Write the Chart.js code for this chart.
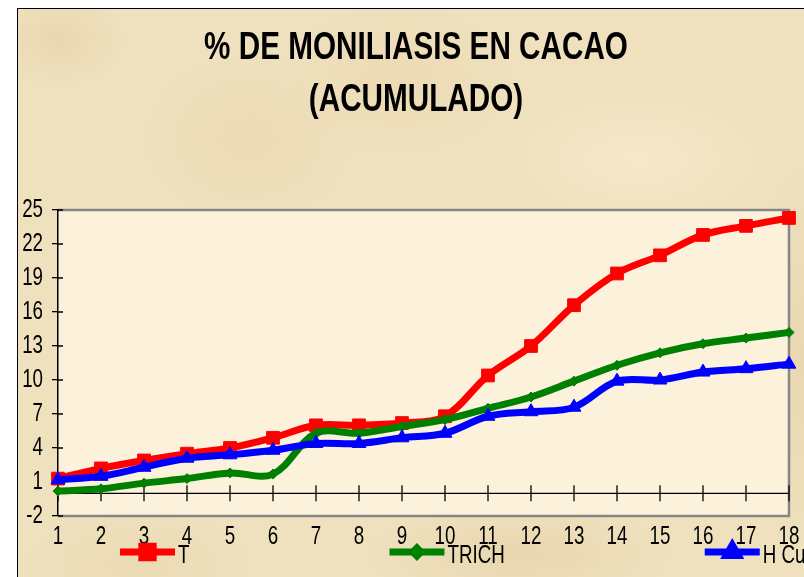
<!DOCTYPE html>
<html>
<head>
<meta charset="utf-8">
<title>% DE MONILIASIS EN CACAO</title>
<script src="https://cdn.jsdelivr.net/npm/chart.js@4.4.1/dist/chart.umd.min.js"></script>
<style>
    html, body {
        margin: 0;
        padding: 0;
        width: 804px;
        height: 577px;
        overflow: hidden;
        background: #ffffff;
    }

    /* parchment style frame of the chart object */
    #frame {
        position: absolute;
        left: 17px;
        top: 8px;
        width: 860px;
        height: 600px;
        border-left: 1.5px solid #000;
        border-top: 1.5px solid #000;
        background:
            radial-gradient(ellipse 70px 50px at 40px 30px, rgba(222, 196, 150, 0.35), transparent),
            radial-gradient(ellipse 120px 80px at 380px 70px, rgba(230, 206, 160, 0.35), transparent),
            radial-gradient(ellipse 140px 70px at 620px 150px, rgba(250, 238, 210, 0.6), transparent),
            radial-gradient(ellipse 110px 90px at 230px 130px, rgba(226, 202, 158, 0.30), transparent),
            radial-gradient(ellipse 160px 50px at 500px 545px, rgba(222, 198, 152, 0.40), transparent),
            radial-gradient(ellipse 120px 60px at 120px 555px, rgba(228, 206, 162, 0.35), transparent),
            radial-gradient(ellipse 70px 200px at 790px 350px, rgba(224, 200, 154, 0.40), transparent),
            #efe1be;
    }

    #chart {
        position: absolute;
        left: 17px;
        top: 8px;
    }
</style>
</head>
<body>
<div id="frame"></div>
<canvas id="chart" width="840" height="569"></canvas>

<script>
// x categories (sampling number)
const days = ['1', '2', '3', '4', '5', '6', '7', '8', '9', '10', '11', '12', '13', '14', '15', '16', '17', '18'];

// accumulated moniliasis (%) per treatment
const seriesT = [1.3, 2.2, 2.9, 3.5, 4.0, 4.9, 6.0, 6.0, 6.2, 6.8, 10.4, 13.0, 16.6, 19.4, 21.0, 22.8, 23.6, 24.3];
const seriesTrich = [0.2, 0.4, 0.9, 1.3, 1.8, 1.7, 5.3, 5.3, 5.9, 6.5, 7.5, 8.5, 9.9, 11.3, 12.4, 13.2, 13.7, 14.2];
const seriesHCu = [1.2, 1.5, 2.3, 3.1, 3.4, 3.8, 4.4, 4.4, 4.9, 5.3, 6.8, 7.2, 7.6, 9.9, 10.0, 10.7, 11.0, 11.4];

// y axis range
const yMin = -2;
const yMax = 25;
const yStep = 3;

const FONT = '"Liberation Sans", Arial, sans-serif';
// the original uses a narrow face, so text gets squeezed sideways
const TEXT_SQUEEZE = 0.75;

const COLORS = {
    red: '#ff0000',
    green: '#008000',
    blue: '#0000ff',
};

const canvas = document.getElementById('chart');
const c2d = canvas.getContext('2d');

// squeeze every text drawn on this canvas around its anchor point
const origFillText = c2d.fillText.bind(c2d);
const origMeasureText = c2d.measureText.bind(c2d);
c2d.fillText = function (text, x, y, maxWidth) {
    this.save();
    this.translate(x, y);
    this.scale(TEXT_SQUEEZE, 1);
    if (maxWidth !== undefined) {
        origFillText(text, 0, 0, maxWidth / TEXT_SQUEEZE);
    } else {
        origFillText(text, 0, 0);
    }
    this.restore();
};
c2d.measureText = function (text) {
    const m = origMeasureText(text);
    return {
        width: m.width * TEXT_SQUEEZE,
        actualBoundingBoxAscent: m.actualBoundingBoxAscent,
        actualBoundingBoxDescent: m.actualBoundingBoxDescent,
        actualBoundingBoxLeft: m.actualBoundingBoxLeft * TEXT_SQUEEZE,
        actualBoundingBoxRight: m.actualBoundingBoxRight * TEXT_SQUEEZE
    };
};

// light plot area with grey frame, like the excel chart
const plotBackground = {
    id: 'plotBackground',
    beforeDraw(chart) {
        const {ctx, chartArea} = chart;
        ctx.save();
        ctx.fillStyle = '#fcf2db';
        ctx.fillRect(chartArea.left, chartArea.top, chartArea.right - chartArea.left, chartArea.bottom - chartArea.top);
        ctx.strokeStyle = '#868686';
        ctx.lineWidth = 2.5;
        ctx.beginPath();
        ctx.moveTo(chartArea.left, chartArea.top);
        ctx.lineTo(chartArea.right, chartArea.top);
        ctx.lineTo(chartArea.right, chartArea.bottom);
        ctx.lineTo(chartArea.left, chartArea.bottom);
        ctx.stroke();
        ctx.restore();
    }
};

// category axis crossing at zero, with tick marks on both sides
const zeroAxis = {
    id: 'zeroAxis',
    beforeDatasetsDraw(chart) {
        const {ctx, chartArea, scales: {x, y}} = chart;
        const y0 = y.getPixelForValue(0);
        ctx.save();
        ctx.strokeStyle = '#000';
        ctx.lineWidth = 1.3;
        ctx.beginPath();
        ctx.moveTo(chartArea.left, y0);
        ctx.lineTo(chartArea.right, y0);
        x.ticks.forEach((tick, i) => {
            const px = x.getPixelForTick(i);
            ctx.moveTo(px, y0 - 8);
            ctx.lineTo(px, y0 + 8);
        });
        // inner half of the value axis ticks
        y.ticks.forEach((tick, i) => {
            const py = y.getPixelForTick(i);
            ctx.moveTo(chartArea.left, py);
            ctx.lineTo(chartArea.left + 5, py);
        });
        ctx.stroke();
        ctx.restore();
    }
};

// wide excel style legend under the axis
const bottomLegend = {
    id: 'bottomLegend',
    afterDraw(chart) {
        const {ctx} = chart;
        const lineLen = 55;
        const gap = 200;
        const yMid = 544;
        let xPos = 103;
        ctx.save();
        ctx.font = '25px ' + FONT;
        ctx.textBaseline = 'middle';
        ctx.textAlign = 'left';
        chart.data.datasets.forEach(ds => {
            ctx.strokeStyle = ds.borderColor;
            ctx.lineWidth = 7;
            ctx.beginPath();
            ctx.moveTo(xPos, yMid);
            ctx.lineTo(xPos + lineLen, yMid);
            ctx.stroke();
            ctx.fillStyle = ds.borderColor;
            ctx.strokeStyle = ds.borderColor;
            Chart.helpers.drawPoint(ctx, {
                pointStyle: ds.pointStyle,
                radius: ds.pointRadius - 1,
                rotation: 0,
                borderWidth: 1
            }, xPos + lineLen / 2, yMid);
            ctx.fillStyle = '#000';
            ctx.fillText(ds.label, xPos + lineLen + 3, yMid + 4);
            xPos += lineLen + 3 + ctx.measureText(ds.label).width + gap;
        });
        ctx.restore();
    }
};

const moniliasisConfig = {
    type: 'line',
    data: {
        labels: days,
        datasets: [
            {
                label: 'T',
                data: seriesT,
                borderColor: COLORS.red,
                backgroundColor: COLORS.red,
                borderWidth: 7,
                pointStyle: 'rect',
                pointRadius: 9,
                pointBorderWidth: 1,
                tension: 0.35,
                order: 2
            },
            {
                label: 'TRICH',
                data: seriesTrich,
                borderColor: COLORS.green,
                backgroundColor: COLORS.green,
                borderWidth: 7,
                pointStyle: 'rectRot',
                pointRadius: 5,
                pointBorderWidth: 1,
                tension: 0.35,
                order: 1
            },
            {
                label: 'H Cu',
                data: seriesHCu,
                borderColor: COLORS.blue,
                backgroundColor: COLORS.blue,
                borderWidth: 7,
                pointStyle: 'triangle',
                pointRadius: 8,
                pointBorderWidth: 1,
                tension: 0.35,
                order: 0
            }
        ]
    },
    options: {
        responsive: false,
        animation: false,
        layout: {
            padding: {left: 0, right: 42, top: 0, bottom: 21}
        },
        plugins: {
            legend: {display: false},
            tooltip: {enabled: false},
            title: {
                display: true,
                text: ['% DE MONILIASIS EN CACAO', '(ACUMULADO)'],
                color: '#000',
                font: {family: FONT, size: 39.6, weight: 'bold', lineHeight: '52px'},
                padding: {top: 14, bottom: 84}
            }
        },
        scales: {
            x: {
                type: 'category',
                offset: false,
                grid: {display: false, drawTicks: false},
                border: {display: false},
                ticks: {
                    color: '#000',
                    font: {family: FONT, size: 25},
                    padding: 6,
                    maxRotation: 0,
                    autoSkip: false
                },
                afterFit: scale => { scale.height = 40; }
            },
            y: {
                min: yMin,
                max: yMax,
                grid: {drawOnChartArea: false, drawTicks: true, tickLength: 6, color: '#000', lineWidth: 1.3},
                border: {display: true, color: '#000', width: 1.5},
                ticks: {
                    stepSize: yStep,
                    color: '#000',
                    font: {family: FONT, size: 25},
                    padding: 9
                },
                afterFit: scale => { scale.width = 41; }
            },
            // empty right hand axis, only keeps room so the title centres like the original
            yRight: {
                position: 'right',
                display: true,
                grid: {display: false},
                border: {display: false},
                ticks: {display: false},
                afterFit: scale => { scale.width = 26; }
            }
        }
    },
    plugins: [plotBackground, zeroAxis, bottomLegend]
};

const moniliasisChart = new Chart(canvas, moniliasisConfig);
</script>
</body>
</html>
